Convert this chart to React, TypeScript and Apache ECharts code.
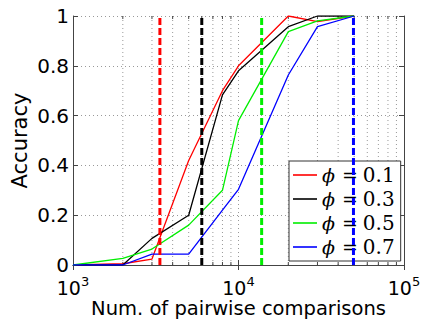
import React, { useEffect, useRef } from "react";
import * as echarts from "echarts";

const comparisons = [1000, 2000, 3000, 5000, 8000, 10000, 20000, 30000, 50000];
const acc01 = [0, 0.005, 0.024, 0.42, 0.70, 0.80, 1.0, 0.977, 1.0];
const acc03 = [0, 0, 0.107, 0.20, 0.683, 0.78, 0.957, 1.0, 1.0];
const acc05 = [0, 0.027, 0.064, 0.16, 0.30, 0.58, 0.937, 0.98, 1.0];
const acc07 = [0, 0, 0.044, 0.044, 0.22, 0.304, 0.763, 0.957, 1.0];
const phiLabels = ["0.1", "0.3", "0.5", "0.7"];
const thresholds = [3350, 6000, 13800, 49500];
const minorTicks = [2000, 3000, 4000, 5000, 6000, 7000, 8000, 9000, 20000, 30000, 40000, 50000, 60000, 70000, 80000, 90000];
const colors = ["#ff0000", "#000000", "#00ee00", "#0000ff"];

export default function App() {
  const ref = useRef<HTMLDivElement>(null);
  useEffect(() => {
    const chart = echarts.init(ref.current!, null, { renderer: "svg" });
    const accs = [acc01, acc03, acc05, acc07];
    const axisColor = "#444";
    const gridColor = "#999";
    const lineSeries: any[] = accs.map((a, i) => ({
      name: "phi" + phiLabels[i],
      type: "line",
      symbol: "none",
      data: comparisons.map((c, j) => [c, a[j]]),
      lineStyle: { color: colors[i], width: 1.3 },
      itemStyle: { color: colors[i] },
      z: 3,
    }));
    const dashSeries: any[] = thresholds.map((t, i) => ({
      name: "thr" + i,
      type: "line",
      symbol: "none",
      data: [
        [t, 0],
        [t, 1],
      ],
      lineStyle: { color: colors[i], width: 3, type: [7, 3] },
      z: 4,
    }));
    const minorSeries = {
      type: "custom",
      name: "minor",
      data: minorTicks.map((m) => [m, 0]),
      encode: { x: 0, y: 1 },
      clip: false,
      z: 1,
      silent: true,
      renderItem: (params: any, api: any) => {
        const x = api.value(0);
        const p0 = api.coord([x, 0]);
        const p1 = api.coord([x, 1]);
        return {
          type: "group",
          children: [
            {
              type: "line",
              shape: { x1: p0[0], y1: p0[1], x2: p1[0], y2: p1[1] },
              style: { stroke: gridColor, lineWidth: 1, lineDash: [1, 3] },
            },
            {
              type: "line",
              shape: { x1: p0[0], y1: p0[1], x2: p0[0], y2: p0[1] - 3 },
              style: { stroke: axisColor, lineWidth: 1 },
            },
            {
              type: "line",
              shape: { x1: p1[0], y1: p1[1], x2: p1[0], y2: p1[1] + 3 },
              style: { stroke: axisColor, lineWidth: 1 },
            },
          ],
        };
      },
    };
    const option: any = {
      animation: false,
      backgroundColor: "#ffffff",
      grid: { left: 73, right: 17, top: 16, bottom: 55, outerBoundsMode: "none", containLabel: false },
      legend: {
        data: phiLabels.map((p) => "phi" + p),
        orient: "vertical",
        left: 289,
        top: 161,
        padding: [4, 6, 4, 4],
        itemGap: 4,
        itemWidth: 24,
        itemHeight: 1.6,
        icon: "rect",
        itemStyle: { borderWidth: 0 },
        backgroundColor: "#ffffff",
        borderColor: "#333",
        borderWidth: 1,
        borderRadius: 0,
        formatter: (name: string) =>
          "{p|ϕ}{e|=}{n|" + name.replace("phi", "") + "}",
        textStyle: {
          lineHeight: 20,
          rich: {
            p: { fontFamily: "DejaVu Serif", fontStyle: "italic", fontSize: 19, lineHeight: 20, padding: [0, 7, 0, 0], color: "#000" },
            e: { fontFamily: "DejaVu Serif", fontSize: 19, lineHeight: 20, padding: [0, 5, 0, 0], color: "#000" },
            n: { fontFamily: "DejaVu Serif", fontSize: 20, lineHeight: 20, color: "#000" },
          },
        },
      },
      xAxis: [
        {
          type: "log",
          logBase: 10,
          min: 1000,
          max: 100000,
          name: "Num. of pairwise comparisons",
          nameLocation: "middle",
          nameGap: 34,
          nameMoveOverlap: false,
          nameTextStyle: { fontFamily: "DejaVu Sans", fontSize: 19.5, lineHeight: 19, color: "#000" },
          axisLine: { show: true, lineStyle: { color: axisColor, width: 1 } },
          axisTick: { show: true, inside: true, length: 5, lineStyle: { color: axisColor } },
          splitLine: { show: true, lineStyle: { color: gridColor, type: [1, 3] } },
          axisLabel: {
            margin: 10,
            formatter: (v: number) => "{b|10}{s|" + Math.round(Math.log10(v)) + "}",
            rich: {
              b: { fontFamily: "DejaVu Sans", fontSize: 19, lineHeight: 22, verticalAlign: "bottom", color: "#000" },
              s: { fontFamily: "DejaVu Sans", fontSize: 13, lineHeight: 9, verticalAlign: "top", color: "#000" },
            },
          },
        },
        {
          type: "log",
          logBase: 10,
          min: 1000,
          max: 100000,
          position: "top",
          axisLine: { show: true, lineStyle: { color: axisColor, width: 1 } },
          axisTick: { show: true, inside: true, length: 5, lineStyle: { color: axisColor } },
          axisLabel: { show: false },
          splitLine: { show: false },
        },
      ],
      yAxis: [
        {
          type: "value",
          min: 0,
          max: 1,
          interval: 0.2,
          name: "Accuracy",
          nameLocation: "middle",
          nameGap: 43,
          nameMoveOverlap: false,
          nameTextStyle: { fontFamily: "DejaVu Sans", fontSize: 21, color: "#000" },
          axisLine: { show: true, lineStyle: { color: axisColor, width: 1 } },
          axisTick: { show: true, inside: true, length: 5, lineStyle: { color: axisColor } },
          splitLine: { show: true, lineStyle: { color: gridColor, type: [1, 3] } },
          axisLabel: { margin: 4, fontFamily: "DejaVu Sans", fontSize: 20, color: "#000" },
        },
        {
          type: "value",
          min: 0,
          max: 1,
          interval: 0.2,
          position: "right",
          axisLine: { show: true, lineStyle: { color: axisColor, width: 1 } },
          axisTick: { show: true, inside: true, length: 5, lineStyle: { color: axisColor } },
          axisLabel: { show: false },
          splitLine: { show: false },
        },
      ],
      series: [minorSeries, ...lineSeries, ...dashSeries],
    };
    chart.setOption(option);
    return () => chart.dispose();
  }, []);
  return <div ref={ref} style={{ width: 421, height: 320, position: "absolute", left: 0, top: 0 }} />;
}
